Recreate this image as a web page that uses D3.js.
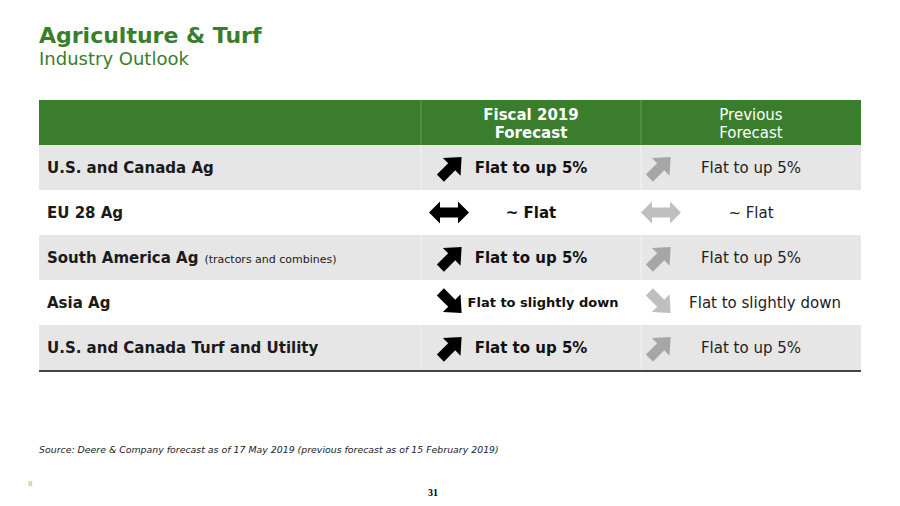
<!DOCTYPE html>
<html>
<head>
<meta charset="utf-8">
<script src="https://cdn.jsdelivr.net/npm/d3@7"></script>
<style>
  body { margin: 0; background: #fff; }
  svg { display: block; font-family: Verdana, "DejaVu Sans", sans-serif; }
</style>
</head>
<body>
<svg id="chart" width="900" height="506"></svg>
<script>
const regions = ['U.S. and Canada Ag', 'EU 28 Ag', 'South America Ag', 'Asia Ag', 'U.S. and Canada Turf and Utility']
const regionNotes = ['', '', '(tractors and combines)', '', '']
const currentForecast = ['Flat to up 5%', '~ Flat', 'Flat to up 5%', 'Flat to slightly down', 'Flat to up 5%']
const previousForecast = ['Flat to up 5%', '~ Flat', 'Flat to up 5%', 'Flat to slightly down', 'Flat to up 5%']
const currentDirection = ['up', 'flat', 'up', 'down', 'up']
const previousDirection = ['up', 'flat', 'up', 'down', 'up']
const columnKeys = ['label', 'current', 'previous']
const headers = [[], ['Fiscal 2019', 'Forecast'], ['Previous', 'Forecast']]

const green = '#3a7d2c'
const svg = d3.select('#chart')

// title
svg.append('text').attr('x', 39).attr('y', 43)
    .attr('fill', green).attr('font-size', 22).attr('font-weight', 'bold')
    .text('Agriculture & Turf')
svg.append('text').attr('x', 39).attr('y', 65)
    .attr('fill', green).attr('font-size', 18)
    .text('Industry Outlook')

const x = d3.scaleOrdinal().domain(columnKeys).range([39, 421, 641])
const colW = { label: 382, current: 220, previous: 220 }
const y = d3.scaleBand().domain(d3.range(regions.length)).range([145, 370]).padding(0)

// header
const g = svg.append('g')
g.append('rect').attr('x', 39).attr('y', 100).attr('width', 822).attr('height', 45).attr('fill', green)
columnKeys.forEach((k, i) => {
    if (i > 0) {
        g.append('line').attr('x1', x(k)).attr('x2', x(k)).attr('y1', 100).attr('y2', 145)
            .attr('stroke', '#6a9e5e').attr('stroke-width', 1)
    }
    headers[i].forEach((h, j) => {
        g.append('text').attr('x', x(k) + colW[k] / 2).attr('y', 120 + j * 18)
            .attr('text-anchor', 'middle').attr('fill', '#fff').attr('font-size', 15)
            .attr('font-weight', i === 1 ? 'bold' : 'normal')
            .text(h)
    })
})

// rows
const rows = g.selectAll('.row').data(regions).join('g')
    .attr('class', 'row')
    .attr('transform', (d, i) => `translate(0, ${y(i)})`)

rows.append('rect').attr('x', 39).attr('width', 822).attr('height', y.bandwidth())
    .attr('fill', (d, i) => i % 2 === 0 ? '#e6e6e6' : '#ffffff')
rows.filter((d, i) => i % 2 === 0).each(function () {
    ['current', 'previous'].forEach(k => {
        d3.select(this).append('line').attr('x1', x(k)).attr('x2', x(k))
            .attr('y1', 0).attr('y2', y.bandwidth()).attr('stroke', '#f4f4f4')
    })
})

const mid = y.bandwidth() / 2 + 5
const isLong = s => s.length > 15
const lab = rows.append('text').attr('x', 47).attr('y', mid)
    .attr('fill', '#1a1a1a').attr('font-size', 15)
lab.append('tspan').attr('font-weight', 'bold').text(d => d)
lab.append('tspan').attr('font-size', 11).attr('dx', 6).text((d, i) => regionNotes[i])

rows.append('text')
    .attr('x', (d, i) => x('current') + 110 + (isLong(currentForecast[i]) ? 12 : 0))
    .attr('y', (d, i) => isLong(currentForecast[i]) ? mid - 1 : mid)
    .attr('text-anchor', 'middle').attr('font-weight', 'bold')
    .attr('font-size', (d, i) => isLong(currentForecast[i]) ? 13 : 15)
    .attr('fill', '#111')
    .text((d, i) => currentForecast[i])

rows.append('text')
    .attr('x', (d, i) => x('previous') + 110 + (isLong(previousForecast[i]) ? 14 : 0))
    .attr('y', mid)
    .attr('text-anchor', 'middle').attr('font-size', 15).attr('fill', '#222')
    .text((d, i) => previousForecast[i])

// arrow shapes
const diag = 'M-15,-5 L1,-5 L1,-12.5 L15,0 L1,12.5 L1,5 L-15,5 Z'
const both = 'M-20,0 L-9,-11 L-9,-5 L9,-5 L9,-11 L20,0 L9,11 L9,5 L-9,5 L-9,11 Z'
function arrow(sel, dir, cx, color) {
    const cy = y.bandwidth() / 2
    if (dir === 'flat') {
        sel.append('path').attr('d', both).attr('fill', color)
            .attr('transform', `translate(${cx}, ${cy})`)
    } else {
        sel.append('path').attr('d', diag).attr('fill', color)
            .attr('transform', `translate(${cx}, ${cy}) rotate(${dir === 'up' ? -45 : 45})`)
    }
}
rows.each(function (d, i) {
    const s = d3.select(this)
    arrow(s, currentDirection[i], currentDirection[i] === 'flat' ? 449 : 451, '#000')
    arrow(s, previousDirection[i], previousDirection[i] === 'flat' ? 661 : 660, i % 2 === 0 ? '#a6a6a6' : '#bfbfbf')
})

g.append('line').attr('x1', 39).attr('x2', 861).attr('y1', 371).attr('y2', 371)
    .attr('stroke', '#444').attr('stroke-width', 2)

// footer
svg.append('text').attr('x', 39).attr('y', 453).attr('font-size', 9.4)
    .attr('font-style', 'italic').attr('fill', '#222')
    .text('Source: Deere & Company forecast as of 17 May 2019 (previous forecast as of 15 February 2019)')
svg.append('text').attr('x', 28).attr('y', 486).attr('font-size', 7).attr('fill', '#aaa').text('8')
svg.append('text').attr('x', 428).attr('y', 496).attr('font-size', 10)
    .attr('font-weight', 'bold').attr('font-family', '"Liberation Serif", serif').text('31')
</script>
</body>
</html>
